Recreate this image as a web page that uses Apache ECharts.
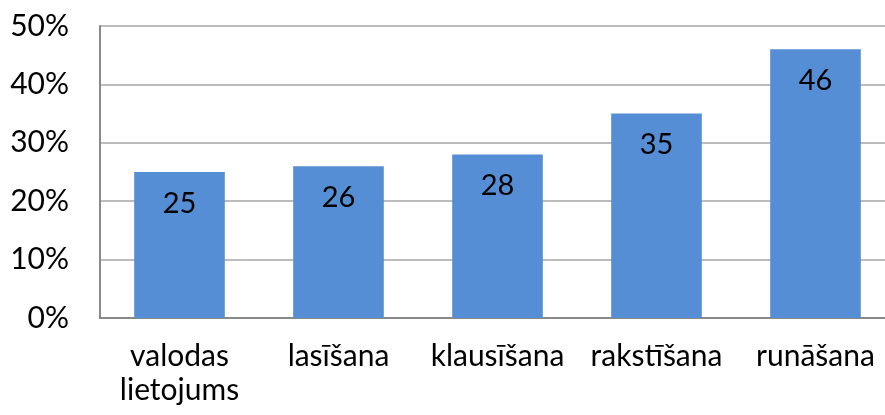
<!DOCTYPE html>
<html>
<head>
<meta charset="utf-8">
<script src="https://cdn.jsdelivr.net/npm/echarts@6/dist/echarts.min.js"></script>
<style>
  html, body { margin: 0; padding: 0; background: #fff; }
  #chart { width: 885px; height: 415px; }
</style>
</head>
<body>
<div id="chart"></div>
<script>
// prasmes un to vērtības (%)
const categories = ['valodas\nlietojums', 'lasīšana', 'klausīšana', 'rakstīšana', 'runāšana'];
const values = [25, 26, 28, 35, 46];
const yTicks = [0, 10, 20, 30, 40, 50];

const font = 'Lato, "Open Sans", sans-serif';
const chart = echarts.init(document.getElementById('chart'));
chart.setOption({
    animation: false,
    grid: { left: 100, width: 795, top: 26, bottom: 97, outerBoundsMode: 'none' },
    xAxis: {
        type: 'category',
        data: categories,
        axisLine: { lineStyle: { color: '#898989', width: 2 } },
        axisTick: { show: false },
        axisLabel: {
            interval: 0,
            color: '#000',
            fontSize: 30,
            fontFamily: font,
            margin: 21,
            lineHeight: 34
        }
    },
    yAxis: {
        type: 'value',
        min: yTicks[0],
        max: yTicks[yTicks.length - 1],
        interval: 10,
        axisLine: { show: true, lineStyle: { color: '#898989', width: 2 } },
        axisTick: { show: false },
        splitLine: { lineStyle: { color: '#a6a6a6', width: 1.5 } },
        axisLabel: {
            color: '#000',
            fontSize: 30,
            fontFamily: font,
            margin: 31,
            formatter: '{value}%'
        }
    },
    series: [{
        type: 'bar',
        data: values,
        barCategoryGap: '43%',
        itemStyle: { color: '#558ed5' },
        label: {
            show: true,
            position: 'insideTop',
            distance: 17,
            color: '#000',
            fontSize: 29,
            fontFamily: font
        }
    }]
});
</script>
</body>
</html>
